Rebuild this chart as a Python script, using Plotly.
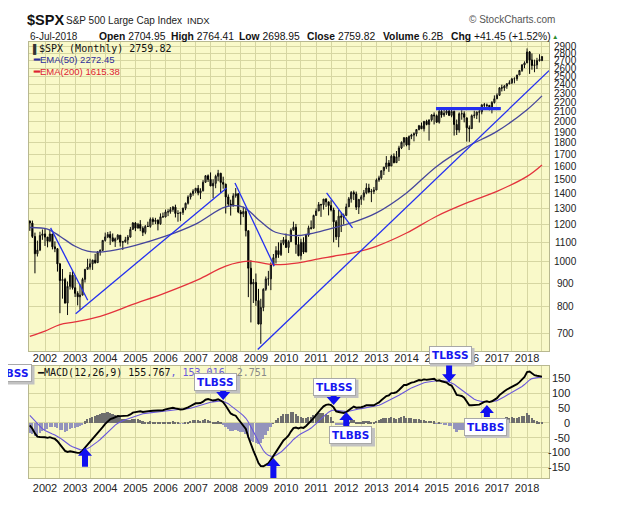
import numpy as np
import pandas as pd
import plotly.graph_objects as go

# ---------------- data (monthly bars, Jul-2001 .. Jul-2018) ----------------
bar_open = [
    1224.42, 1211.23, 1133.58, 1040.94, 1059.78, 1139.45,
    1148.08, 1130.20, 1106.73, 1147.39, 1076.92, 1067.14, 989.82, 911.62, 916.07, 815.28, 885.76, 936.31,
    879.82, 855.70, 841.15, 848.18, 916.92, 963.59, 974.50, 990.31, 1008.01, 995.97, 1050.71, 1058.20,
    1111.92, 1131.13, 1144.94, 1126.21, 1107.30, 1120.68, 1140.84, 1101.72, 1104.24, 1114.58, 1130.20, 1173.82,
    1211.92, 1181.27, 1203.60, 1180.59, 1156.85, 1191.50, 1191.33, 1234.18, 1220.33, 1228.81, 1207.01, 1249.48,
    1248.29, 1280.08, 1280.66, 1294.83, 1310.61, 1270.09, 1270.20, 1276.66, 1303.82, 1335.85, 1377.94, 1400.63,
    1418.30, 1438.24, 1406.82, 1420.86, 1482.37, 1530.62, 1503.35, 1455.27, 1473.99, 1526.75, 1549.38, 1481.14,
    1468.36, 1378.55, 1330.63, 1322.70, 1385.59, 1400.38, 1280.00, 1267.38, 1282.83, 1166.36, 968.75, 896.24,
    903.25, 825.88, 735.09, 797.87, 872.81, 919.14, 919.32, 987.48, 1020.62, 1057.08, 1036.19, 1095.63,
    1115.10, 1073.87, 1104.49, 1169.43, 1186.69, 1089.41, 1030.71, 1101.60, 1049.33, 1141.20, 1183.26, 1180.55,
    1257.64, 1286.12, 1327.22, 1325.83, 1363.61, 1345.20, 1320.64, 1292.28, 1218.89, 1131.42, 1253.30, 1246.96,
    1257.60, 1312.41, 1365.68, 1408.47, 1397.91, 1310.33, 1362.16, 1379.32, 1406.58, 1440.67, 1412.16, 1416.18,
    1426.19, 1498.11, 1514.68, 1569.19, 1597.57, 1630.74, 1606.28, 1685.73, 1632.97, 1681.55, 1756.54, 1805.81,
    1848.36, 1782.59, 1859.45, 1872.34, 1883.95, 1923.57, 1960.23, 1930.67, 2003.37, 1972.29, 2018.05, 2067.56,
    2058.90, 1994.99, 2104.50, 2067.89, 2085.51, 2107.39, 2063.11, 2103.84, 1972.18, 1920.03, 2079.36, 2080.41,
    2038.20, 1940.24, 1932.23, 2059.74, 2065.30, 2096.95, 2098.86, 2173.60, 2170.95, 2168.27, 2126.15, 2198.81,
    2238.83, 2278.87, 2363.64, 2362.72, 2384.20, 2411.80, 2423.41, 2470.30, 2471.65, 2519.36, 2575.26, 2647.58,
    2673.61, 2823.81, 2713.83, 2640.87, 2648.05, 2705.27, 2704.95,
]
bar_high = [
    1225.04, 1226.27, 1155.40, 1110.61, 1160.33, 1173.62,
    1176.55, 1130.20, 1173.94, 1147.84, 1106.59, 1070.74, 994.46, 965.00, 924.02, 907.44, 951.00, 954.28,
    935.05, 864.64, 895.90, 924.24, 965.38, 1015.33, 1015.41, 1011.01, 1040.29, 1053.79, 1063.65, 1112.56,
    1155.38, 1158.98, 1163.23, 1150.57, 1127.74, 1146.34, 1140.84, 1109.08, 1131.54, 1142.05, 1188.46, 1217.33,
    1217.80, 1212.42, 1229.11, 1191.88, 1199.56, 1219.59, 1245.15, 1245.86, 1243.13, 1233.34, 1270.64, 1275.80,
    1294.90, 1297.57, 1310.88, 1318.16, 1326.70, 1290.68, 1280.42, 1306.74, 1340.28, 1389.45, 1407.89, 1431.81,
    1441.61, 1461.57, 1438.89, 1498.02, 1535.56, 1540.56, 1555.90, 1503.89, 1538.74, 1576.09, 1552.76, 1523.57,
    1471.77, 1396.02, 1359.68, 1404.16, 1440.24, 1404.05, 1292.17, 1313.15, 1303.04, 1167.03, 1007.51, 918.85,
    943.85, 875.01, 832.98, 877.61, 930.17, 956.23, 996.68, 1039.47, 1080.15, 1101.36, 1113.69, 1130.38,
    1150.45, 1112.42, 1180.16, 1219.80, 1206.10, 1131.23, 1120.95, 1129.24, 1148.67, 1196.14, 1227.08, 1262.60,
    1302.67, 1344.07, 1332.28, 1364.56, 1370.58, 1345.20, 1356.48, 1307.38, 1229.29, 1292.66, 1277.55, 1269.37,
    1333.47, 1378.04, 1419.15, 1422.38, 1415.32, 1363.46, 1391.74, 1426.68, 1474.51, 1470.96, 1434.27, 1448.00,
    1509.94, 1530.94, 1570.28, 1597.57, 1687.18, 1654.19, 1698.78, 1709.67, 1729.86, 1775.22, 1813.55, 1849.44,
    1850.84, 1867.92, 1883.97, 1897.28, 1924.03, 1968.17, 1991.39, 2005.04, 2019.26, 2018.19, 2075.76, 2093.55,
    2072.36, 2119.59, 2117.52, 2125.92, 2134.72, 2129.87, 2132.82, 2112.66, 2020.86, 2094.32, 2116.48, 2104.27,
    2038.20, 1962.96, 2072.21, 2111.05, 2103.48, 2120.55, 2177.09, 2193.81, 2187.87, 2169.60, 2214.10, 2277.53,
    2300.99, 2371.54, 2400.98, 2398.16, 2418.71, 2453.82, 2484.04, 2490.87, 2519.44, 2582.98, 2657.74, 2694.97,
    2872.87, 2835.96, 2801.90, 2717.49, 2742.10, 2791.47, 2764.41,
]
bar_low = [
    1165.54, 1124.87, 944.75, 1026.76, 1054.31, 1114.93,
    1081.66, 1074.36, 1106.73, 1063.46, 1048.96, 952.92, 775.68, 833.44, 815.28, 768.63, 872.05, 871.85,
    840.34, 806.29, 788.90, 847.85, 902.83, 963.59, 962.10, 960.84, 990.36, 996.03, 1031.20, 1055.04,
    1105.08, 1124.44, 1087.16, 1105.48, 1076.32, 1113.32, 1078.78, 1060.72, 1099.18, 1090.19, 1127.60, 1173.82,
    1163.75, 1180.10, 1163.69, 1136.15, 1146.18, 1188.30, 1183.55, 1201.07, 1205.35, 1168.20, 1201.07, 1246.59,
    1245.74, 1253.61, 1268.42, 1280.74, 1245.34, 1219.29, 1224.54, 1261.30, 1290.93, 1327.10, 1360.98, 1385.93,
    1403.97, 1389.42, 1363.98, 1416.37, 1476.70, 1484.18, 1454.25, 1370.60, 1439.29, 1489.64, 1406.10, 1435.65,
    1270.05, 1316.75, 1256.98, 1312.83, 1373.07, 1272.00, 1200.44, 1247.45, 1133.50, 839.80, 741.02, 815.69,
    804.30, 734.52, 666.79, 783.32, 866.10, 888.86, 869.32, 978.51, 991.97, 1019.95, 1029.38, 1085.89,
    1071.59, 1044.50, 1105.00, 1168.00, 1040.78, 1028.33, 1010.91, 1039.70, 1049.33, 1131.87, 1173.00, 1180.55,
    1257.62, 1286.12, 1249.05, 1294.70, 1311.80, 1258.07, 1282.86, 1101.54, 1114.22, 1074.77, 1158.66, 1202.37,
    1257.60, 1312.41, 1340.03, 1357.38, 1291.98, 1266.74, 1325.41, 1354.65, 1396.56, 1403.28, 1343.35, 1398.11,
    1426.19, 1485.01, 1501.48, 1536.03, 1581.28, 1560.33, 1604.57, 1627.47, 1633.41, 1646.47, 1746.20, 1767.99,
    1770.45, 1737.92, 1834.44, 1814.36, 1859.79, 1915.98, 1930.67, 1904.78, 1964.04, 1820.66, 2001.01, 1972.56,
    1988.12, 1980.90, 2039.69, 2048.38, 2067.93, 2056.32, 2044.02, 1867.01, 1871.91, 1893.70, 2019.39, 1993.26,
    1812.29, 1810.10, 1932.23, 2033.80, 2025.91, 1991.68, 2074.02, 2147.58, 2119.12, 2114.72, 2083.79, 2187.44,
    2238.83, 2271.65, 2322.25, 2328.95, 2352.72, 2405.70, 2407.70, 2417.35, 2446.55, 2519.36, 2557.45, 2605.52,
    2673.61, 2532.69, 2585.89, 2553.80, 2594.62, 2691.99, 2698.95,
]
bar_close = [
    1211.23, 1133.58, 1040.94, 1059.78, 1139.45, 1148.08,
    1130.20, 1106.73, 1147.39, 1076.92, 1067.14, 989.82, 911.62, 916.07, 815.28, 885.76, 936.31, 879.82,
    855.70, 841.15, 848.18, 916.92, 963.59, 974.50, 990.31, 1008.01, 995.97, 1050.71, 1058.20, 1111.92,
    1131.13, 1144.94, 1126.21, 1107.30, 1120.68, 1140.84, 1101.72, 1104.24, 1114.58, 1130.20, 1173.82, 1211.92,
    1181.27, 1203.60, 1180.59, 1156.85, 1191.50, 1191.33, 1234.18, 1220.33, 1228.81, 1207.01, 1249.48, 1248.29,
    1280.08, 1280.66, 1294.83, 1310.61, 1270.09, 1270.20, 1276.66, 1303.82, 1335.85, 1377.94, 1400.63, 1418.30,
    1438.24, 1406.82, 1420.86, 1482.37, 1530.62, 1503.35, 1455.27, 1473.99, 1526.75, 1549.38, 1481.14, 1468.36,
    1378.55, 1330.63, 1322.70, 1385.59, 1400.38, 1280.00, 1267.38, 1282.83, 1166.36, 968.75, 896.24, 903.25,
    825.88, 735.09, 797.87, 872.81, 919.14, 919.32, 987.48, 1020.62, 1057.08, 1036.19, 1095.63, 1115.10,
    1073.87, 1104.49, 1169.43, 1186.69, 1089.41, 1030.71, 1101.60, 1049.33, 1141.20, 1183.26, 1180.55, 1257.64,
    1286.12, 1327.22, 1325.83, 1363.61, 1345.20, 1320.64, 1292.28, 1218.89, 1131.42, 1253.30, 1246.96, 1257.60,
    1312.41, 1365.68, 1408.47, 1397.91, 1310.33, 1362.16, 1379.32, 1406.58, 1440.67, 1412.16, 1416.18, 1426.19,
    1498.11, 1514.68, 1569.19, 1597.57, 1630.74, 1606.28, 1685.73, 1632.97, 1681.55, 1756.54, 1805.81, 1848.36,
    1782.59, 1859.45, 1872.34, 1883.95, 1923.57, 1960.23, 1930.67, 2003.37, 1972.29, 2018.05, 2067.56, 2058.90,
    1994.99, 2104.50, 2067.89, 2085.51, 2107.39, 2063.11, 2103.84, 1972.18, 1920.03, 2079.36, 2080.41, 2043.94,
    1940.24, 1932.23, 2059.74, 2065.30, 2096.95, 2098.86, 2173.60, 2170.95, 2168.27, 2126.15, 2198.81, 2238.83,
    2278.87, 2363.64, 2362.72, 2384.20, 2411.80, 2423.41, 2470.30, 2471.65, 2519.36, 2575.26, 2647.58, 2673.61,
    2823.81, 2713.83, 2640.87, 2648.05, 2705.27, 2718.37, 2759.82,
]
# monthly closes before the visible window (Jan-1997 .. Jun-2001), only used for MACD warm-up
pre_close = [
    786.16, 790.82, 757.12, 801.34, 848.28, 885.14, 954.29, 899.47, 947.28, 914.62, 955.40, 970.43,
    980.28, 1049.34, 1101.75, 1111.75, 1090.82, 1133.84, 1120.67, 957.28, 1017.01, 1098.67, 1163.63, 1229.23,
    1279.64, 1238.33, 1286.37, 1335.18, 1301.84, 1372.71, 1328.72, 1320.41, 1282.71, 1362.93, 1388.91, 1469.25,
    1394.46, 1366.42, 1498.58, 1452.43, 1420.60, 1454.60, 1430.83, 1517.68, 1436.51, 1429.40, 1315.23, 1320.28,
    1366.01, 1239.94, 1160.33, 1249.46, 1255.82, 1224.38,
]

# moving averages
ema50_dates = ['2001-07-01', '2002-02-01', '2002-07-01', '2003-01-01', '2003-06-01', '2003-10-01',
               '2004-03-01', '2005-01-01', '2006-01-01', '2007-01-01', '2008-01-01', '2008-08-01',
               '2009-02-01', '2009-08-01', '2010-01-01', '2010-06-01', '2010-12-01', '2011-08-01',
               '2012-03-01', '2013-01-01', '2014-01-01', '2015-01-01', '2016-01-01', '2017-01-01',
               '2018-01-01', '2018-07-01']
ema50_vals = [1185, 1176, 1135, 1080, 1054, 1049, 1056, 1085, 1135, 1205, 1312, 1311,
              1232, 1163, 1144, 1139, 1153, 1183, 1212, 1274, 1406, 1603, 1765, 1906, 2122, 2272]
ema200_dates = ['2001-07-01', '2002-01-01', '2002-07-01', '2003-01-01', '2003-11-01', '2004-12-01',
                '2006-01-01', '2007-02-01', '2008-01-01', '2008-10-01', '2009-08-01', '2010-06-01',
                '2011-02-01', '2011-08-01', '2012-05-01', '2013-01-01', '2014-01-01', '2015-01-01',
                '2016-01-01', '2017-01-01', '2018-01-01', '2018-07-01']
ema200_vals = [692, 710, 733, 743, 764, 810, 858, 916, 979, 1003, 986, 995,
               1015, 1028, 1049, 1080, 1153, 1253, 1338, 1417, 1526, 1615]

# hand-drawn trend lines
tl_start_date = ['2002-03-10', '2003-01-08', '2008-04-22', '2009-01-23', '2011-05-08', '2014-12-24']
tl_start_val = [1183, 774, 1477, 648, 1406, 2133]
tl_end_date = ['2003-06-03', '2008-01-12', '2009-08-11', '2018-09-27', '2012-03-17', '2017-02-17']
tl_end_val = [827, 1441, 979, 2576, 1183, 2133]
tl_width = [1.3, 1.3, 1.3, 1.3, 1.3, 3.2]

price_ticks = [700, 800, 900, 1000, 1100, 1200, 1300, 1400, 1500, 1600, 1700, 1800, 1900,
               2000, 2100, 2200, 2300, 2400, 2500, 2600, 2700, 2800, 2900]
macd_ticks = [-150, -100, -50, 0, 50, 100, 150]

# signal markers in the MACD panel
sig_kind = ['TLBSS', 'TLBSS', 'TLBSS', 'TLBBS', 'TLBSS', 'TLBBS']
arrow_date = [None, '2007-12-01', '2011-08-01', '2012-01-01', '2015-06-01', '2016-09-01']
arrow_val = [None, 77, 60, 36, 137, 60]
arrow_dir = [None, 'down', 'down', 'up', 'down', 'up']
arrow_len = [None, 10, 10, 14, 19, 12]
extra_arrow_date = ['2003-05-01', '2009-08-01']
extra_arrow_val = [-85, -119]
extra_arrow_len = [19, 22]

# ---------------- derived ----------------
months = pd.date_range('2001-07-01', periods=len(bar_close), freq='MS')
s = pd.Series(pre_close + bar_close)
e12 = s.ewm(span=12, adjust=False).mean()
e26 = s.ewm(span=26, adjust=False).mean()
macd_all = e12 - e26
sig_all = macd_all.ewm(span=9, adjust=False).mean()
n_pre = len(pre_close)
macd_v = macd_all.values[n_pre:]
sig_v = sig_all.values[n_pre:]
hist_v = macd_v - sig_v

# ---------------- layout helpers ----------------
# the page body adds an 8px offset, so the figure is laid out 8px smaller;
# all positions below are given in page pixels
OFF = 8
W, H = 607, 498
PLOT_L, PLOT_R, PLOT_T, PLOT_B = 29, 549, 42, 478          # page pixels of the plotting area
L, R, T, B = PLOT_L - OFF, W - (PLOT_R - OFF), PLOT_T - OFF, H - (PLOT_B - OFF)
PW, PH = PLOT_R - PLOT_L, PLOT_B - PLOT_T


def xp(px):
    return (px - PLOT_L) / PW


def yp(py):
    return (PLOT_B - py) / PH


BG = '#f9f9c9'
GRID = '#d6d6a2'
FRAME = '#b8b890'
SANS = 'Liberation Sans, Arial, sans-serif'
VER = 'DejaVu Sans, Verdana, sans-serif'
MONO = 'DejaVu Sans Mono, monospace'

fig = go.Figure()

fig.add_trace(go.Candlestick(
    x=months, open=bar_open, high=bar_high, low=bar_low, close=bar_close,
    increasing=dict(line=dict(color='#111111', width=1), fillcolor='#7f7f66'),
    decreasing=dict(line=dict(color='#000000', width=1), fillcolor='#000000'),
    whiskerwidth=0, showlegend=False, hoverinfo='skip', xaxis='x', yaxis='y'))

fig.add_trace(go.Scatter(x=ema200_dates, y=ema200_vals, mode='lines', line=dict(color='#e3323c', width=1.3, shape='spline'),
                         showlegend=False, hoverinfo='skip', xaxis='x', yaxis='y'))
fig.add_trace(go.Scatter(x=ema50_dates, y=ema50_vals, mode='lines', line=dict(color='#46469c', width=1.3, shape='spline'),
                         showlegend=False, hoverinfo='skip', xaxis='x', yaxis='y'))

for i in range(len(tl_start_date)):
    fig.add_trace(go.Scatter(x=[tl_start_date[i], tl_end_date[i]], y=[tl_start_val[i], tl_end_val[i]],
                             mode='lines', line=dict(color='#2430f0', width=tl_width[i]),
                             showlegend=False, hoverinfo='skip', xaxis='x', yaxis='y'))

hist_colors = ['#6e6e6e' if v >= 0 else '#9494bc' for v in hist_v]
fig.add_trace(go.Bar(x=months, y=hist_v, marker=dict(color=hist_colors, line=dict(width=0)),
                     width=21 * 86400000, showlegend=False, hoverinfo='skip', xaxis='x2', yaxis='y2'))
fig.add_trace(go.Scatter(x=months, y=sig_v, mode='lines', line=dict(color='#6a58dc', width=1.1),
                         showlegend=False, hoverinfo='skip', xaxis='x2', yaxis='y2'))
fig.add_trace(go.Scatter(x=months, y=macd_v, mode='lines', line=dict(color='#000000', width=1.9),
                         showlegend=False, hoverinfo='skip', xaxis='x2', yaxis='y2'))

xcommon = dict(type='date', range=['2001-06-21', '2018-09-24'], showgrid=True, gridcolor=GRID, gridwidth=1,
               dtick='M12', tick0='2002-01-01', tickformat='%Y', ticks='',
               tickfont=dict(family=SANS, size=11, color='#222222'),
               minor=dict(dtick='M6', tick0='2001-07-01', showgrid=True, gridcolor=GRID, gridwidth=1),
               showline=True, mirror=True, linecolor=FRAME, linewidth=1, zeroline=False, fixedrange=True)

top_lo = (PLOT_B - 351) / PH
bot_hi = (PLOT_B - 365.5) / PH

fig.update_layout(
    width=W, height=H, margin=dict(l=L, r=R, t=T, b=B, pad=0),
    paper_bgcolor='white', plot_bgcolor=BG, showlegend=False, bargap=0,
    xaxis=dict(domain=[0, 1], anchor='y', rangeslider=dict(visible=False), ticklabelstandoff=-3, **xcommon),
    xaxis2=dict(domain=[0, 1], anchor='y2', matches='x', **xcommon),
    yaxis=dict(domain=[top_lo, 1], anchor='x', type='log', range=[2.8085, 3.4721], tickvals=price_ticks,
               showticklabels=False, showgrid=True, gridcolor=GRID, showline=True, mirror=True,
               linecolor=FRAME, ticks='', zeroline=False, fixedrange=True, side='right'),
    yaxis2=dict(domain=[0, bot_hi], anchor='x2', range=[-186.8, 193.2], tickvals=macd_ticks,
                showticklabels=False, showgrid=True, gridcolor=GRID, showline=True, mirror=True,
                linecolor=FRAME, ticks='', zeroline=False, fixedrange=True, side='right'),
)

ann = []
shapes = []


def text(t, px, py, size, color='#111111', family=SANS, xanchor='left', **kw):
    ann.append(dict(text=t, x=xp(px), y=yp(py), xref='paper', yref='paper', showarrow=False,
                    xanchor=xanchor, yanchor='middle', font=dict(family=family, size=size, color=color), **kw))


# header
text('<b>$SPX</b>', 25, 20, 14.5, '#111111')
text('S&P 500 Large Cap Index', 64, 21, 10, '#222222')
text('INDX', 185, 21, 9.5, '#222222')
text('© StockCharts.com', 557, 20, 10, '#555555', xanchor='right')
text('6-Jul-2018', 28, 37, 10, '#222222')
hdr = [('Open', '2704.95', 97), ('High', '2764.41', 169), ('Low', '2698.95', 237), ('Close', '2759.82', 305),
       ('Volume', '6.2B', 381), ('Chg', '+41.45 (+1.52%)', 449)]
for lab, val, px0 in hdr:
    text('<b>%s</b> %s' % (lab, val), px0, 37, 10.3, '#111111')
text('▲', 555, 37, 6.5, '#2e8b2e', xanchor='center')

# in-panel legends
text('▌', 31, 49, 9, '#333333', family=SANS)
text('$SPX (Monthly) 2759.82', 37, 49, 10, '#111111', family=MONO)
text('<b>━</b>EMA(50) 2272.45', 31, 60, 9.5, '#2e2e9a', family=SANS)
text('<b>━</b>EMA(200) 1615.38', 31, 71, 9.5, '#dd2233', family=SANS)
text('<b>━</b>MACD(12,26,9) 155.767<span style="color:#6a58dc">, 153.016</span>'
     '<span style="color:#888888">, 2.751</span>', 35, 372, 10, '#111111', family=MONO)

# price axis labels (centred) and MACD axis labels (right aligned)
for v in price_ticks:
    ann.append(dict(text=str(v), x=xp(565.5), y=np.log10(v), xref='paper', yref='y', showarrow=False,
                    xanchor='center', yanchor='middle', font=dict(family=SANS, size=10, color='#222222')))
for v in macd_ticks:
    ann.append(dict(text=str(v), x=xp(572), y=v, xref='paper', yref='y2', showarrow=False,
                    xanchor='right', yanchor='middle', font=dict(family=SANS, size=11, color='#222222')))

# signal boxes (with a soft drop shadow)
box_px = [(10, 373), (215.5, 382), (334, 386.5), (350.5, 435), (450, 355), (485, 426.5)]
for i, k in enumerate(sig_kind):
    bx, by = box_px[i]
    shapes.append(dict(type='rect', xref='paper', yref='paper', x0=xp(bx - 20), x1=xp(bx + 24.5),
                       y0=yp(by + 11.5), y1=yp(by - 7), fillcolor='#c2c2c2', line=dict(width=0), layer='above'))
    ann.append(dict(text='<b>%s</b>' % k, x=xp(bx), y=yp(by), xref='paper', yref='paper', showarrow=False,
                    xanchor='center', yanchor='middle', borderwidth=1, borderpad=2,
                    font=dict(family=VER, size=10.5, color='#1818f0'), bgcolor='white', bordercolor='#a8a8a8'))


def arrow_path(direction, length):
    hw, hh, sw = 7, 8, 3
    s_ = 1 if direction == 'down' else -1
    pts = [(0, 0), (hw, s_ * hh), (sw, s_ * hh), (sw, s_ * length), (-sw, s_ * length), (-sw, s_ * hh), (-hw, s_ * hh)]
    return 'M ' + ' L '.join('%g,%g' % p for p in pts) + ' Z'


for i in range(len(sig_kind)):
    if arrow_date[i] is None:
        continue
    shapes.append(dict(type='path', xref='x2', yref='y2', xsizemode='pixel', ysizemode='pixel',
                       xanchor=arrow_date[i], yanchor=arrow_val[i], path=arrow_path(arrow_dir[i], arrow_len[i]),
                       fillcolor='#1010f0', line=dict(width=0), layer='above'))
for d, v, ln in zip(extra_arrow_date, extra_arrow_val, extra_arrow_len):
    shapes.append(dict(type='path', xref='x2', yref='y2', xsizemode='pixel', ysizemode='pixel',
                       xanchor=d, yanchor=v, path=arrow_path('up', ln),
                       fillcolor='#1010f0', line=dict(width=0), layer='above'))

fig.update_layout(annotations=ann, shapes=shapes)
fig.write_html('out.html')
